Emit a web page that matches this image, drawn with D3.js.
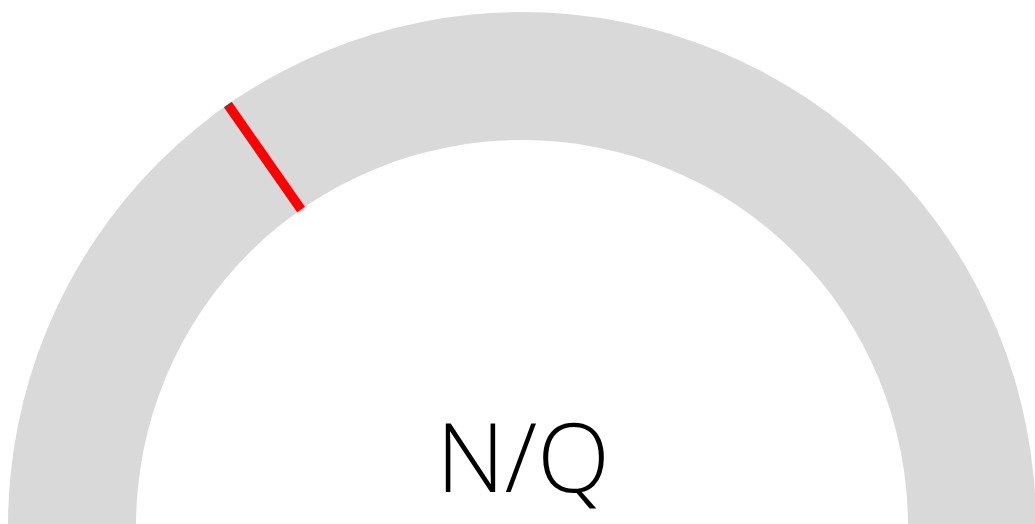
<!DOCTYPE html>
<html>
<head>
<meta charset="utf-8">
<script src="https://cdn.jsdelivr.net/npm/d3@7"></script>
<style>
  html, body { margin: 0; padding: 0; background: #fff; overflow: hidden; }
</style>
</head>
<body>
<div id="chart"></div>
<script>
// gauge range and the marker value
var range   = [0, 100];
var markers = [30.6];
var labels  = ["N/Q"];

var width  = 1035;
var height = 524;
var cx     = 522;
var cy     = 526;
var outerR = 514;
var innerR = 386;

var svg = d3.select("#chart").append("svg")
  .attr("width", width)
  .attr("height", height);

var g = svg.append("g").attr("transform", "translate(" + cx + "," + cy + ")");

// value -> angle, from left (-90deg) to right (+90deg)
var angle = d3.scaleLinear().domain(range).range([-Math.PI / 2, Math.PI / 2]);

var arc = d3.arc()
  .innerRadius(innerR)
  .outerRadius(outerR)
  .startAngle(angle(range[0]))
  .endAngle(angle(range[1]));

g.append("path")
  .attr("d", arc())
  .attr("fill", "#d9d9d9");

// marker lines across the band
g.selectAll("line.marker")
  .data(markers)
  .enter().append("line")
  .attr("class", "marker")
  .attr("x1", function (d) { return innerR * Math.sin(angle(d)); })
  .attr("y1", function (d) { return -innerR * Math.cos(angle(d)); })
  .attr("x2", function (d) { return outerR * Math.sin(angle(d)); })
  .attr("y2", function (d) { return -outerR * Math.cos(angle(d)); })
  .attr("stroke", "#ff0000")
  .attr("stroke-width", 9.5);

g.selectAll("text.label")
  .data(labels)
  .enter().append("text")
  .attr("class", "label")
  .attr("x", 1)
  .attr("y", -34)
  .attr("text-anchor", "middle")
  .attr("font-family", "'Open Sans', 'Noto Sans', sans-serif")
  .attr("font-weight", 350)
  .attr("font-size", 95)
  .attr("fill", "#000")
  .text(function (d) { return d; });
</script>
</body>
</html>
